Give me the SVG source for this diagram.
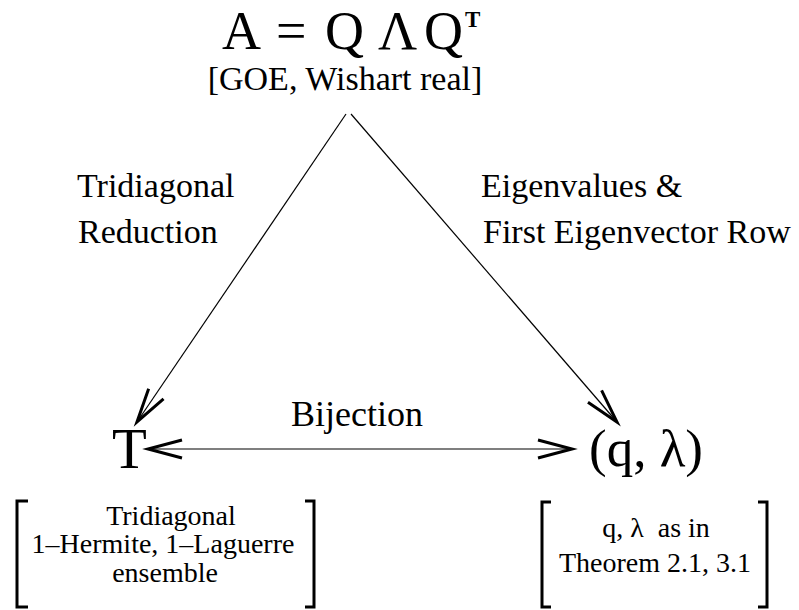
<svg xmlns="http://www.w3.org/2000/svg" width="799" height="610" viewBox="0 0 799 610" font-family="'Liberation Serif', 'DejaVu Serif', serif">
<style>
  text { font-family: 'Liberation Serif', 'DejaVu Serif', serif; fill: #000; }
  .lbl { font-size: 34px; }
  .box { font-size: 28px; text-anchor: middle; }
  .big { font-size: 54px; }
  .edge { stroke: #000; stroke-width: 1.2; fill: none; }
  .brk { stroke: #000; stroke-width: 3; fill: none; }
</style>
<defs>
  <marker id="arr" markerUnits="userSpaceOnUse" markerWidth="40" markerHeight="24" refX="0" refY="0" viewBox="-36 -12 40 24" orient="auto-start-reverse" overflow="visible">
    <path d="M-34,-9 L0,0 L-34,9" fill="none" stroke="#000" stroke-width="3"/>
  </marker>
</defs>
<rect width="799" height="610" fill="#fff"/>

<g id="node-A">
  <text class="big" x="222 276 325 378 424" y="49">A=QΛQ</text>
  <text x="465" y="27" style="font-size:23px;font-weight:bold">T</text>
  <text class="lbl" x="345" y="90" text-anchor="middle">[GOE, Wishart real]</text>
</g>

<g id="node-T">
  <text x="112" y="468" style="font-size:57px">T</text>
  <g id="box-T">
    <path class="brk" d="M28,501 H17 V607 H28"/>
    <path class="brk" d="M305,501 H314 V607 H305"/>
    <text class="box" x="171" y="525">Tridiagonal</text>
    <text class="box" x="163" y="553">1–Hermite, 1–Laguerre</text>
    <text class="box" x="165" y="582">ensemble</text>
  </g>
</g>

<g id="node-qlambda">
  <text x="589" y="466" style="font-size:53px">(q, λ)</text>
  <g id="box-qlambda">
    <path class="brk" d="M551,502 H542 V607 H551"/>
    <path class="brk" d="M758,502 H767 V607 H758"/>
    <text class="box" x="656" y="537" xml:space="preserve">q, λ  as in</text>
    <text class="box" x="655" y="572">Theorem 2.1, 3.1</text>
  </g>
</g>

<g id="connectors">
  <line class="edge" x1="346" y1="114" x2="137" y2="422" marker-end="url(#arr)"/>
  <line class="edge" x1="351" y1="114" x2="617" y2="422" marker-end="url(#arr)"/>
  <line class="edge" x1="148" y1="449" x2="572" y2="449" marker-start="url(#arr)" marker-end="url(#arr)"/>
  <text class="lbl" x="77" y="197">Tridiagonal</text>
  <text class="lbl" x="78" y="243">Reduction</text>
  <text class="lbl" x="481" y="197">Eigenvalues &amp;</text>
  <text class="lbl" x="483" y="243">First Eigenvector Row</text>
  <text x="357" y="426" text-anchor="middle" style="font-size:36px">Bijection</text>
</g>
</svg>
